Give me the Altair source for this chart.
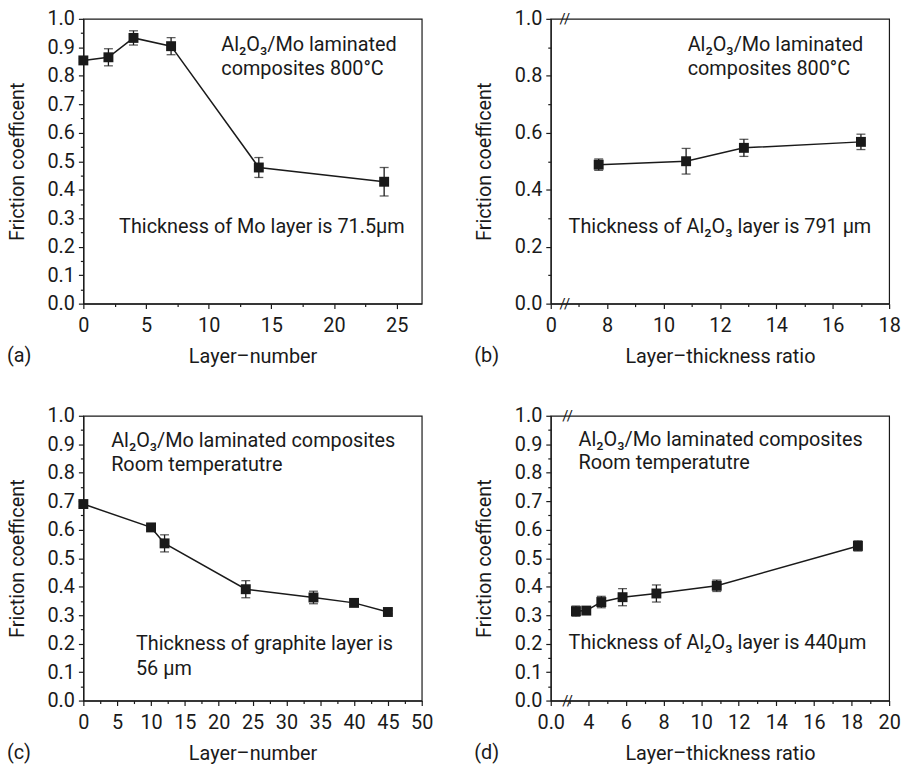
import json
import altair as alt
import pandas as pd

# ---------------- data ----------------
# (a) Al2O3/Mo laminated composites, 800 C, vs layer number
a_layers = [0, 2, 4, 7, 14, 24]
a_mu = [0.854, 0.865, 0.933, 0.904, 0.478, 0.428]
a_err = [0.006, 0.030, 0.025, 0.030, 0.035, 0.050]

# (b) 800 C, vs layer-thickness ratio
b_ratio = [7.7, 10.8, 12.85, 17.0]
b_mu = [0.488, 0.500, 0.547, 0.568]
b_err = [0.020, 0.045, 0.030, 0.027]

# (c) room temperature, vs layer number
c_layers = [0, 10, 12, 24, 34, 40, 45]
c_mu = [0.690, 0.608, 0.552, 0.391, 0.362, 0.343, 0.311]
c_err = [0.008, 0.008, 0.030, 0.030, 0.022, 0.008, 0.006]

# (d) room temperature, vs layer-thickness ratio
d_ratio = [3.34, 3.89, 4.69, 5.82, 7.62, 10.83, 18.34]
d_mu = [0.314, 0.316, 0.346, 0.363, 0.376, 0.403, 0.543]
d_err = [0.018, 0.008, 0.020, 0.030, 0.030, 0.020, 0.018]

# tick values and labels
a_xmajor = [0, 5, 10, 15, 20, 25]
a_xminor = [2.5, 7.5, 12.5, 17.5, 22.5]
a_xlabels = ["0", "5", "10", "15", "20", "25"]

b_xmajor = [6, 8, 10, 12, 14, 16, 18]
b_xminor = [7, 9, 11, 13, 15, 17]
b_xlabels = ["0", "8", "10", "12", "14", "16", "18"]

c_xmajor = [0, 5, 10, 15, 20, 25, 30, 35, 40, 45, 50]
c_xminor = [2.5, 7.5, 12.5, 17.5, 22.5, 27.5, 32.5, 37.5, 42.5, 47.5]
c_xlabels = ["0", "5", "10", "15", "20", "25", "30", "35", "40", "45", "50"]

d_xmajor = [2, 4, 6, 8, 10, 12, 14, 16, 18, 20]
d_xminor = [3, 5, 7, 9, 11, 13, 15, 17, 19]
d_xlabels = ["0.0", "4", "6", "8", "10", "12", "14", "16", "18", "20"]

y_major_fine = [0.0, 0.1, 0.2, 0.3, 0.4, 0.5, 0.6, 0.7, 0.8, 0.9, 1.0]
y_minor_fine = [0.05, 0.15, 0.25, 0.35, 0.45, 0.55, 0.65, 0.75, 0.85, 0.95]
y_major_coarse = [0.0, 0.2, 0.4, 0.6, 0.8, 1.0]
y_minor_coarse = [0.1, 0.3, 0.5, 0.7, 0.9]

FONT = "Roboto"
INK = "#1a1a1a"
FS = 20
W, H = 341, 287


def label_expr(major, labels):
    expr = "''"
    for v, l in reversed(list(zip(major, labels))):
        expr = f"datum.value == {json.dumps(v)} ? '{l}' : {expr}"
    return expr


def tick_size(major):
    return {"condition": {"test": f"indexof({json.dumps(major)}, datum.value) >= 0", "value": 5}, "value": 3}


def panel(xs, mu, err, xdomain, xmajor, xminor, xlabels, ymajor, yminor, xtitle,
          texts, tag, brk):
    df = pd.DataFrame({"x": xs, "mu": mu,
                       "lo": [m - e for m, e in zip(mu, err)],
                       "hi": [m + e for m, e in zip(mu, err)]})
    xaxis = alt.Axis(values=sorted(xmajor + xminor), tickSize=tick_size(xmajor),
                     labelExpr=label_expr(xmajor, xlabels), title=xtitle,
                     labelFlush=False, labelPadding=7, titlePadding=11)
    ylabels = [f"{v:.1f}" for v in ymajor]
    yaxis = alt.Axis(values=sorted(ymajor + yminor), tickSize=tick_size(ymajor),
                     labelExpr=label_expr(ymajor, ylabels), title="Friction coefficent",
                     labelFlush=False, labelPadding=4, titlePadding=20)
    xs_ = alt.Scale(domain=xdomain, nice=False, zero=False)
    ys_ = alt.Scale(domain=[0, 1], nice=False, zero=False)
    X = alt.X("x:Q", scale=xs_, axis=xaxis)

    line = alt.Chart(df).mark_line(color=INK, strokeWidth=1.5).encode(
        x=X, y=alt.Y("mu:Q", scale=ys_, axis=yaxis))
    bars = alt.Chart(df).mark_errorbar(ticks=True, size=9, thickness=1.3, color=INK).encode(
        x=X, y=alt.Y("lo:Q", scale=ys_, axis=yaxis), y2="hi:Q")
    pts = alt.Chart(df).mark_point(shape="square", filled=True, size=100, opacity=1,
                                   color=INK).encode(
        x=X, y=alt.Y("mu:Q", scale=ys_, axis=yaxis))
    layers = [line, bars, pts]
    for (t, px, py) in texts:
        layers.append(alt.Chart().mark_text(text=t, font=FONT, fontSize=FS, color=INK,
                                            align="left", baseline="alphabetic").encode(
            x=alt.value(px), y=alt.value(py)))
    layers.append(alt.Chart().mark_text(text=tag, font=FONT, fontSize=FS, color=INK,
                                        align="left", baseline="alphabetic").encode(
        x=alt.value(-77), y=alt.value(H + 59)))
    if brk is not None:
        bdf = pd.DataFrame({"x": [brk, brk], "y": [0.0, 1.0]})
        layers.append(alt.Chart(bdf).mark_text(text="//", font=FONT, fontSize=15,
                                               color=INK).encode(
            x=alt.X("x:Q", scale=xs_, axis=xaxis),
            y=alt.Y("y:Q", scale=ys_, axis=yaxis)))
    return alt.layer(*layers).properties(width=W, height=H)


pa = panel(a_layers, a_mu, a_err, [0, 27], a_xmajor, a_xminor, a_xlabels,
           y_major_fine, y_minor_fine, "Layer–number",
           [("Al₂O₃/Mo laminated", 139, 32), ("composites 800°C", 139, 57),
            ("Thickness of Mo layer is 71.5µm", 36, 216)], "(a)", None)
pb = panel(b_ratio, b_mu, b_err, [6, 18], b_xmajor, b_xminor, b_xlabels,
           y_major_coarse, y_minor_coarse, "Layer–thickness ratio",
           [("Al₂O₃/Mo laminated", 138, 32), ("composites 800°C", 138, 57),
            ("Thickness of Al₂O₃ layer is 791 µm", 18, 216)], "(b)", 6.5)
pc = panel(c_layers, c_mu, c_err, [0, 50], c_xmajor, c_xminor, c_xlabels,
           y_major_fine, y_minor_fine, "Layer–number",
           [("Al₂O₃/Mo laminated composites", 28, 31), ("Room temperatutre", 28, 56),
            ("Thickness of graphite layer is", 53, 236), ("56 µm", 53, 261)], "(c)", None)
pd_ = panel(d_ratio, d_mu, d_err, [2, 20], d_xmajor, d_xminor, d_xlabels,
            y_major_fine, y_minor_fine, "Layer–thickness ratio",
            [("Al₂O₃/Mo laminated composites", 28, 30), ("Room temperatutre", 28, 54),
             ("Thickness of Al₂O₃ layer is 440µm", 18, 235)], "(d)", 2.9)

row1 = alt.hconcat(pa, pb, spacing=51)
row2 = alt.hconcat(pc, pd_, spacing=40)
chart = alt.vconcat(row1, row2, spacing=38).properties(
    padding={"left": 6, "top": 5, "right": 5, "bottom": 5}, background="white"
).configure_view(stroke=INK, strokeWidth=1.2).configure_axis(
    grid=False, domainColor=INK, domainWidth=1.2, tickColor=INK, tickWidth=1.2,
    labelFont=FONT, labelFontSize=FS, labelColor=INK,
    titleFont=FONT, titleFontSize=FS, titleFontWeight="normal", titleColor=INK
).configure_text(font=FONT)

chart.save("out.html", embed_options={"renderer": "svg", "actions": False})
